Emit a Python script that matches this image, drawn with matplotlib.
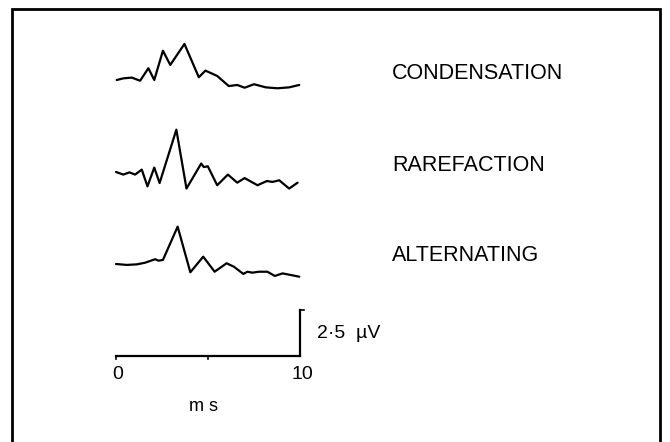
import matplotlib
matplotlib.use("Agg")
import matplotlib.pyplot as plt

# ---- data (time in ms, amplitude in µV relative to each trace's baseline) ----
cond_t = [0.04, 0.40, 0.86, 1.31, 1.76, 2.08, 2.55, 2.95, 3.72, 4.50, 4.86, 5.50,
          6.13, 6.59, 6.99, 7.50, 8.14, 8.78, 9.41, 9.96]
cond_v = [0.00, 0.09, 0.13, -0.04, 0.64, 0.00, 1.59, 0.82, 1.96, 0.15, 0.51, 0.22,
          -0.33, -0.27, -0.42, -0.23, -0.40, -0.45, -0.40, -0.27]

rare_t = [0.00, 0.40, 0.73, 1.04, 1.40, 1.71, 2.08, 2.37, 3.28, 3.83, 4.63, 4.77,
          4.99, 5.50, 6.08, 6.59, 6.99, 7.69, 8.20, 8.50, 8.87, 9.41, 9.87]
rare_v = [0.00, -0.14, -0.02, -0.14, 0.13, -0.78, 0.24, -0.60, 2.30, -0.90, 0.46, 0.27,
          0.31, -0.72, -0.14, -0.58, -0.33, -0.72, -0.49, -0.54, -0.45, -0.90, -0.58]

alt_t = [0.00, 0.58, 1.13, 1.58, 2.13, 2.31, 2.55, 3.35, 4.04, 4.74, 5.36, 6.01,
         6.41, 6.92, 7.14, 7.41, 7.78, 8.23, 8.63, 9.05, 9.51, 9.96]
alt_v = [0.00, -0.05, -0.02, 0.07, 0.26, 0.18, 0.22, 2.03, -0.45, 0.40, -0.42, 0.04,
         -0.15, -0.54, -0.42, -0.47, -0.42, -0.42, -0.65, -0.51, -0.60, -0.69]

labels = ["CONDENSATION", "RAREFACTION", "ALTERNATING"]
offsets = [15.0, 10.0, 5.0]          # vertical stacking offsets (µV)
label_y = [15.33, 10.38, 5.46]

time_bar = [0, 10]                   # ms
time_ticks = [0, 5, 10]
volt_bar = [0, 2.5]                  # µV
time_ticklabels = ["0", "10"]

# ---- figure ----
fig = plt.figure(figsize=(6.7, 4.42), dpi=100)
ax = fig.add_axes([0, 0, 1, 1])
ax.set_xlim(-116 / 18.4, (670 - 116) / 18.4)
ax.set_ylim((356 - 442) / 18.4, 356 / 18.4)
ax.axis("off")

font = ["Liberation Sans", "DejaVu Sans"]
lw = 1.6

traces = [(cond_t, cond_v), (rare_t, rare_v), (alt_t, alt_v)]
for (t, v), off, lab, ly in zip(traces, offsets, labels, label_y):
    ax.plot(t, [vv + off for vv in v], color="black", lw=lw,
            solid_joinstyle="round", solid_capstyle="round")
    ax.text(15.0, ly, lab, family=font, fontsize=15.5, ha="left", va="center")

# time scale bar
ax.plot(time_bar, [0, 0], color="black", lw=lw)
for tk in time_ticks[:-1]:
    ax.plot([tk, tk], [0, -0.17], color="black", lw=1.2)
# voltage bar
ax.plot([time_bar[1], time_bar[1]], volt_bar, color="black", lw=lw)
ax.plot([time_bar[1], time_bar[1] + 0.2], [volt_bar[1], volt_bar[1]], color="black", lw=1.2)

ax.text(0.1, -1.03, time_ticklabels[0], family=font, fontsize=14, ha="center", va="center")
ax.text(10.14, -1.03, time_ticklabels[1], family=font, fontsize=14, ha="center", va="center")
ax.text(10.9, 1.25, "2·5  µV", family=font, fontsize=14, ha="left", va="center")
ax.text(4.73, -2.76, "m s", family=font, fontsize=13, ha="center", va="center")

# frame (open at bottom)
fx0, fx1 = (12 - 116) / 18.4, (660 - 116) / 18.4
fy_top, fy_bot = (356 - 9) / 18.4, -6
ax.plot([fx0, fx0, fx1, fx1], [fy_bot, fy_top, fy_top, fy_bot], color="black", lw=2.0,
        solid_joinstyle="miter")

fig.savefig("out.png", dpi=100)
